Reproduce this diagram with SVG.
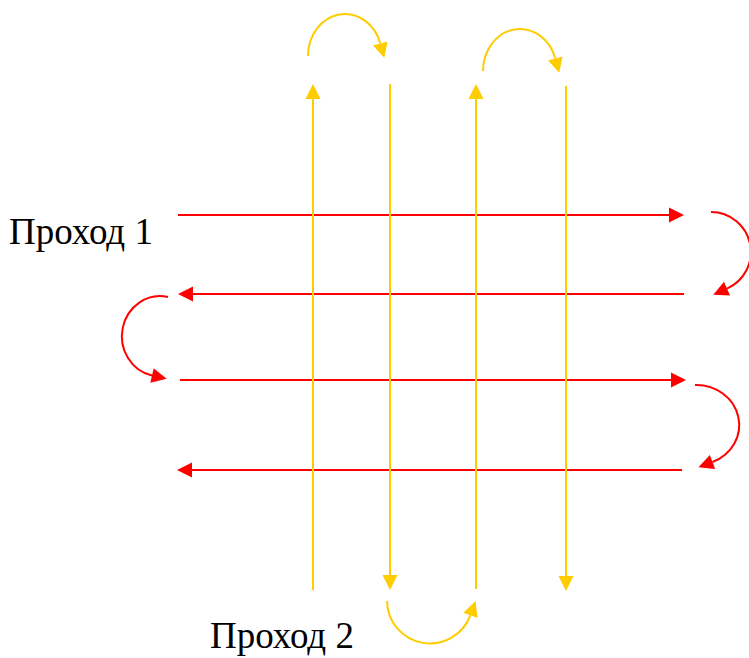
<svg xmlns="http://www.w3.org/2000/svg" width="749" height="658" viewBox="0 0 749 658">
  <style>
    .r { stroke: #FF0000; stroke-width: 2; fill: none; }
    .y { stroke: #FFCC00; stroke-width: 2; fill: none; }
    .r.a { marker-end: url(#ar); }
    .y.a { marker-end: url(#ay); }
    .lbl { font-family: "Liberation Serif", "Times New Roman", serif; font-size: 37px; fill: #000; }
  </style>
  <defs>
    <marker id="ar" markerUnits="userSpaceOnUse" markerWidth="15" markerHeight="15" viewBox="0 0 15 15" refX="0" refY="7.5" orient="auto" overflow="visible">
      <path d="M0,0 L15,7.5 L0,15 z" fill="#FF0000"/>
    </marker>
    <marker id="ay" markerUnits="userSpaceOnUse" markerWidth="15" markerHeight="15" viewBox="0 0 15 15" refX="0" refY="7.5" orient="auto" overflow="visible">
      <path d="M0,0 L15,7.5 L0,15 z" fill="#FFCC00"/>
    </marker>
  </defs>
  <rect width="749" height="658" fill="#FFFFFF"/>

  <g id="connectors">
    <!-- red horizontal passes -->
    <line class="r a" x1="178" y1="215" x2="669" y2="215"/>
    <line class="r a" x1="684" y1="294" x2="193" y2="294"/>
    <line class="r a" x1="180" y1="380" x2="671" y2="380"/>
    <line class="r a" x1="682" y1="470" x2="192" y2="470"/>
    <!-- red turn arcs -->
    <path class="r a" d="M711,212 A40,40 0 0 1 727,288.6"/>
    <path class="r a" d="M168,297 A38,40 0 0 0 152,375.5"/>
    <path class="r a" d="M695,385 A43,40 0 0 1 712.5,462"/>
    <!-- yellow vertical passes -->
    <line class="y a" x1="313" y1="590" x2="313" y2="99"/>
    <line class="y a" x1="390" y1="84" x2="390" y2="575"/>
    <line class="y a" x1="476" y1="589" x2="476" y2="99"/>
    <line class="y a" x1="566" y1="86" x2="566" y2="576"/>
    <!-- yellow turn arcs -->
    <path class="y a" d="M308,56 A37,42 0 0 1 380.3,43.4"/>
    <path class="y a" d="M483,71 A37,42 0 0 1 555.3,58.4"/>
    <path class="y a" d="M387,601 A43,43 0 0 0 470.4,615.2"/>
  </g>

  <g id="label-pass1">
    <text class="lbl" x="9" y="244">Проход 1</text>
  </g>
  <g id="label-pass2">
    <text class="lbl" x="210" y="648">Проход 2</text>
  </g>
</svg>
